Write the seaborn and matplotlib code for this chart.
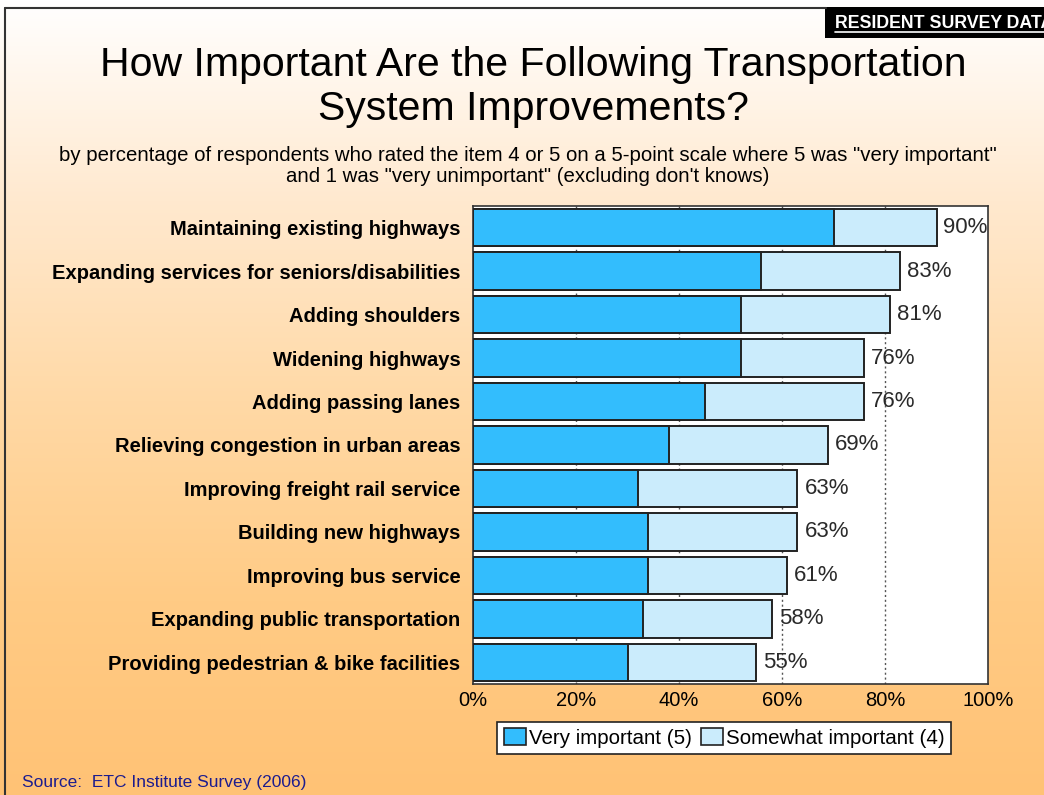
import numpy as np
import pandas as pd
import matplotlib
matplotlib.use("Agg")
import matplotlib.pyplot as plt
from matplotlib.patches import Rectangle
from matplotlib.lines import Line2D
import seaborn as sns

# Survey results (percent of respondents)
items = [
    "Maintaining existing highways",
    "Expanding services for seniors/disabilities",
    "Adding shoulders",
    "Widening highways",
    "Adding passing lanes",
    "Relieving congestion in urban areas",
    "Improving freight rail service",
    "Building new highways",
    "Improving bus service",
    "Expanding public transportation",
    "Providing pedestrian & bike facilities",
]
very_important = [70, 56, 52, 52, 45, 38, 32, 34, 34, 33, 30]
somewhat_important = [20, 27, 29, 24, 31, 31, 31, 29, 27, 25, 25]
x_ticks = [0, 20, 40, 60, 80, 100]

df = pd.DataFrame({
    "item": items,
    "very": very_important,
    "somewhat": somewhat_important,
})
df["total"] = df["very"] + df["somewhat"]

sns.set_style("white")
plt.rcParams["font.family"] = ["Liberation Sans", "DejaVu Sans"]
plt.rcParams["text.color"] = "black"
plt.rcParams["xtick.color"] = "black"
plt.rcParams["ytick.color"] = "black"

W, H = 1044, 795
fig = plt.figure(figsize=(W / 100, H / 100), dpi=100)

# warm vertical gradient background
bg = fig.add_axes([0, 0, 1, 1], zorder=-10)
ys = np.arange(H)
stops_y = [0, 200, 400, 600, 795]
stops_c = np.array([[255, 255, 255], [255, 233, 207], [255, 217, 166],
                    [255, 203, 133], [255, 194, 117]]) / 255.0
grad = np.stack([np.interp(ys, stops_y, stops_c[:, k]) for k in range(3)], axis=1)
bg.imshow(grad[:, None, :], aspect="auto", extent=[0, 1, 0, 1])
bg.set_axis_off()

# page frame (left and top rules)
fig.add_artist(Line2D([5 / W, 5 / W], [0, 1 - 8 / H], transform=fig.transFigure,
                      color="#333333", lw=1.5))
fig.add_artist(Line2D([5 / W, 826 / W], [1 - 8 / H, 1 - 8 / H], transform=fig.transFigure,
                      color="#333333", lw=1.5))

# section tag in the top-right corner (runs off the page edge)
fig.add_artist(Rectangle((825 / W, 1 - 38 / H), (W - 825) / W, 31 / H,
                         transform=fig.transFigure, facecolor="black", edgecolor="none"))
fig.text(835 / W, 1 - 23 / H, "RESIDENT SURVEY DATA", color="white",
         fontsize=12.8, fontweight="bold", ha="left", va="center")
fig.add_artist(Line2D([835 / W, 1], [1 - 32 / H, 1 - 32 / H], transform=fig.transFigure,
                      color="white", lw=1.2))

# titles
fig.text(533 / W, 1 - 87 / H,
         "How Important Are the Following Transportation\nSystem Improvements?",
         ha="center", va="center", fontsize=29.5, linespacing=1.22, color="black")
fig.text(528 / W, 1 - 166 / H,
         "by percentage of respondents who rated the item 4 or 5 on a 5-point scale where 5 was \"very important\"\n"
         "and 1 was \"very unimportant\" (excluding don't knows)",
         ha="center", va="center", fontsize=14.7, linespacing=1.17, color="black")

# plot area
ax = fig.add_axes([473 / W, 1 - 684 / H, (988 - 473) / W, (684 - 206) / H])
ax.set_facecolor("white")

light = "#CBECFC"
blue = "#33BDFD"

sns.barplot(data=df, y="item", x="total", orient="h", color=light, saturation=1,
            edgecolor="#222222", linewidth=1.4, width=0.86, ax=ax, zorder=3)
sns.barplot(data=df, y="item", x="very", orient="h", color=blue, saturation=1,
            edgecolor="#222222", linewidth=1.4, width=0.86, ax=ax, zorder=4)

ax.bar_label(ax.containers[0], labels=[f"{v}%" for v in df["total"]],
             padding=5, fontsize=16, color="#2a2a2a", zorder=6)

ax.set_xlim(0, 100)
ax.set_ylim(len(items) - 0.5, -0.5)
ax.set_xticks(x_ticks)
ax.set_xticklabels([f"{t}%" for t in x_ticks], fontsize=14.5)
ax.tick_params(axis="x", length=0, pad=5)
ax.tick_params(axis="y", length=0, pad=9)
for lab in ax.get_yticklabels():
    lab.set_fontweight("bold")
    lab.set_fontsize(14.5)
    lab.set_color("black")
ax.set_xlabel("")
ax.set_ylabel("")
for gx in x_ticks[1:-1]:
    ax.axvline(gx, color="#555555", lw=1, ls=(0, (1.5, 2)), zorder=1)
for s in ax.spines.values():
    s.set_visible(True)
    s.set_color("#333333")
    s.set_linewidth(1.2)

# legend
handles = [
    Rectangle((0, 0), 1, 1, facecolor=blue, edgecolor="#222222", lw=1.2),
    Rectangle((0, 0), 1, 1, facecolor=light, edgecolor="#222222", lw=1.2),
]
leg = fig.legend(handles, ["Very important (5)", "Somewhat important (4)"],
                 loc="center", bbox_to_anchor=(724 / W, 1 - 738 / H), ncol=2,
                 fontsize=14.8, frameon=True, fancybox=False, handlelength=1.1,
                 handleheight=0.9, handletextpad=0.12, columnspacing=0.45,
                 borderpad=0.3, borderaxespad=0)
leg.get_frame().set_edgecolor("#222222")
leg.get_frame().set_linewidth(1.2)
leg.get_frame().set_facecolor("white")
leg.get_frame().set_alpha(1)

# source note
fig.text(22 / W, 1 - 782 / H, "Source:  ETC Institute Survey (2006)",
         ha="left", va="center", fontsize=12.5, color="#1C1C8E")

fig.savefig("out.png", dpi=100)
